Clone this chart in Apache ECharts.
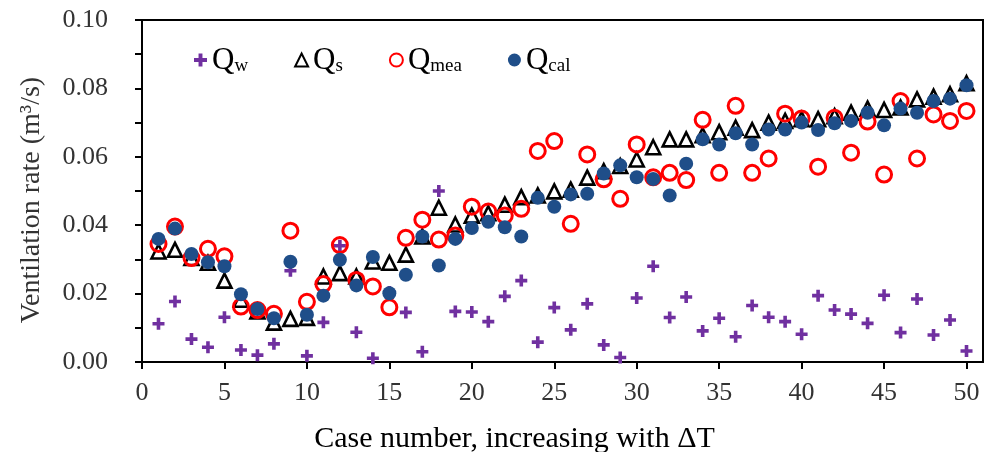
<!DOCTYPE html>
<html>
<head>
<meta charset="utf-8">
<script src="https://cdn.jsdelivr.net/npm/echarts@6/dist/echarts.min.js"></script>
<style>
  html, body { margin: 0; padding: 0; background: #fff; }
  #chart { width: 984px; height: 452px; }
</style>
</head>
<body>
<div id="chart"></div>
<script>
// case numbers 1..50
const cases = [1,2,3,4,5,6,7,8,9,10,11,12,13,14,15,16,17,18,19,20,21,22,23,24,25,26,27,28,29,30,31,32,33,34,35,36,37,38,39,40,41,42,43,44,45,46,47,48,49,50];

const qW = [0.0112,0.0177,0.0067,0.0043,0.0131,0.0035,0.0020,0.0053,0.0267,0.0018,
            0.0116,0.0340,0.0087,0.0011,0.0205,0.0145,0.0030,0.0500,0.0148,0.0146,
            0.0118,0.0192,0.0238,0.0058,0.0159,0.0094,0.0170,0.0050,0.0013,0.0187,
            0.0280,0.0130,0.0190,0.0091,0.0128,0.0074,0.0165,0.0131,0.0118,0.0081,
            0.0194,0.0152,0.0140,0.0113,0.0195,0.0086,0.0184,0.0079,0.0123,0.0032];

const qS = [0.0323,0.0328,0.0304,0.0290,0.0238,0.0182,0.0148,0.0115,0.0126,0.0129,
            0.0250,0.0260,0.0250,0.0294,0.0290,0.0314,0.0367,0.0451,0.0402,0.0428,
            0.0435,0.0460,0.0482,0.0487,0.0499,0.0504,0.0539,0.0558,0.0573,0.0592,
            0.0628,0.0651,0.0651,0.0663,0.0672,0.0685,0.0678,0.0700,0.0705,0.0710,
            0.0710,0.0719,0.0729,0.0741,0.0737,0.0744,0.0768,0.0776,0.0783,0.0815];

const qMea = [0.0345,0.0396,0.0304,0.0331,0.0309,0.0162,0.0152,0.0141,0.0384,0.0176,
              0.0228,0.0342,0.0240,0.0221,0.0160,0.0363,0.0416,0.0358,0.0370,0.0454,
              0.0440,0.0428,0.0448,0.0617,0.0646,0.0404,0.0607,0.0534,0.0477,0.0636,
              0.0540,0.0553,0.0532,0.0708,0.0553,0.0749,0.0553,0.0595,0.0726,0.0712,
              0.0571,0.0714,0.0612,0.0703,0.0548,0.0763,0.0595,0.0724,0.0705,0.0734];

const qCal = [0.0360,0.0390,0.0316,0.0292,0.0280,0.0198,0.0155,0.0128,0.0293,0.0138,
              0.0194,0.0299,0.0224,0.0307,0.0201,0.0255,0.0367,0.0282,0.0360,0.0392,
              0.0410,0.0394,0.0367,0.0480,0.0454,0.0490,0.0492,0.0551,0.0575,0.0540,
              0.0535,0.0487,0.0580,0.0651,0.0636,0.0669,0.0636,0.0680,0.0680,0.0700,
              0.0678,0.0698,0.0705,0.0729,0.0692,0.0741,0.0729,0.0763,0.0770,0.0809];

const yTicks = [0, 0.02, 0.04, 0.06, 0.08, 0.10];
const xTicks = [0, 5, 10, 15, 20, 25, 30, 35, 40, 45, 50];

const plus = 'path://M3.5,0H6.5V3.5H10V6.5H6.5V10H3.5V6.5H0V3.5H3.5Z';
const serif = '"Liberation Serif", "DejaVu Serif", serif';
const textCol = '#333';

function pairs(ys) {
  return cases.map((c, i) => [c, ys[i]]);
}

const chart = echarts.init(document.getElementById('chart'));

chart.setOption({
  animation: false,
  grid: {
    left: 142, right: 1, top: 20, bottom: 90,
    outerBoundsMode: 'none',
    show: true, borderColor: '#000', borderWidth: 2
  },
  legend: {
    left: 189, top: 40,
    itemGap: 46,
    itemWidth: 13, itemHeight: 13,
    data: ['Qw', 'Qs', 'Qmea', 'Qcal'],
    formatter: name => '{q|Q}{s|' + name.slice(1) + '}',
    textStyle: {
      fontFamily: serif, color: '#000',
      rich: {
        q: { fontSize: 31, fontFamily: serif, color: '#000', verticalAlign: 'bottom', lineHeight: 32 },
        s: { fontSize: 19, fontFamily: serif, color: '#000', verticalAlign: 'bottom', lineHeight: 15 }
      }
    }
  },
  xAxis: {
    type: 'value', min: 0, max: 51, interval: 5,
    name: 'Case number, increasing with ΔT',
    nameLocation: 'middle', nameGap: 62,
    nameTextStyle: { fontFamily: serif, fontSize: 30, color: '#000', padding: [0, 96, 0, 0] },
    axisLine: { lineStyle: { color: '#000', width: 2 } },
    axisTick: { inside: false, length: 7, lineStyle: { color: '#000', width: 2 } },
    axisLabel: {
      fontFamily: serif, fontSize: 26, color: textCol, margin: 18, showMaxLabel: false,
      formatter: v => (xTicks.includes(v) ? String(v) : '')
    },
    splitLine: { show: false }
  },
  yAxis: {
    type: 'value', min: 0, max: 0.1, interval: 0.02,
    name: 'Ventilation rate (m³/s)',
    nameLocation: 'middle', nameGap: 96,
    nameTextStyle: { fontFamily: serif, fontSize: 28, color: textCol, padding: [0, 18, 0, 0] },
    axisLine: { lineStyle: { color: '#000', width: 2 } },
    axisTick: { length: 7, lineStyle: { color: '#000', width: 2 } },
    minorTick: { show: true, splitNumber: 2, length: 7, lineStyle: { color: '#000', width: 2 } },
    axisLabel: {
      fontFamily: serif, fontSize: 26, color: textCol, margin: 34,
      formatter: v => {
        const t = yTicks.find(k => Math.abs(k - v) < 1e-9);
        return t === undefined ? '' : t.toFixed(2);
      }
    },
    splitLine: { show: false }
  },
  series: [
    {
      name: 'Qw', type: 'scatter', data: pairs(qW),
      symbol: plus, symbolSize: 12,
      itemStyle: { color: '#7030A0', opacity: 1 }
    },
    {
      name: 'Qs', type: 'scatter', data: pairs(qS),
      symbol: 'triangle', symbolSize: 14,
      itemStyle: { color: 'rgba(0,0,0,0)', borderColor: '#000', borderWidth: 2.6, opacity: 1 }
    },
    {
      name: 'Qmea', type: 'scatter', data: pairs(qMea),
      symbol: 'circle', symbolSize: 15,
      itemStyle: { color: 'rgba(0,0,0,0)', borderColor: '#FF0000', borderWidth: 3, opacity: 1 }
    },
    {
      name: 'Qcal', type: 'scatter', data: pairs(qCal),
      symbol: 'circle', symbolSize: 14,
      itemStyle: { color: '#1F4E89', opacity: 1 }
    }
  ]
});
</script>
</body>
</html>
